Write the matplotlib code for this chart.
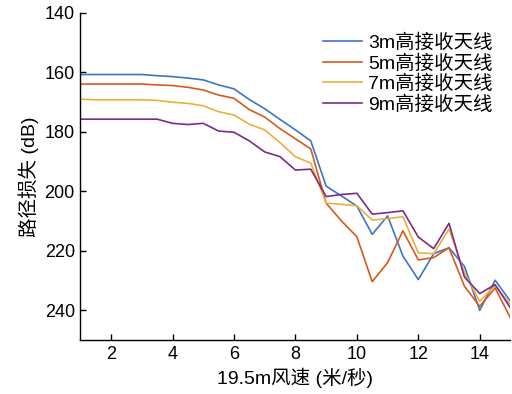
import matplotlib
matplotlib.use("Agg")
import matplotlib.pyplot as plt
import numpy as np

plt.rcParams['font.family'] = ['Liberation Sans', 'Noto Sans CJK SC', 'DejaVu Sans']

# 风速 (米/秒)
wind = np.arange(1, 15.01, 0.5)

loss_3m = [160.8, 160.8, 160.8, 160.8, 160.8, 161.2, 161.5, 162.0, 162.6, 164.3,
           165.6, 169.2, 172.3, 175.9, 179.4, 183.1, 198.3, 201.6, 205.0, 214.5,
           208.3, 221.8, 229.7, 221.0, 219.0, 225.2, 240.0, 229.9, 237.0]
loss_5m = [164.0, 164.0, 164.0, 164.0, 164.0, 164.3, 164.5, 165.1, 166.0, 167.7,
           168.8, 172.6, 175.1, 179.0, 182.4, 185.8, 204.0, 210.0, 215.3, 230.4,
           224.0, 213.3, 223.1, 222.3, 219.0, 231.9, 238.7, 232.5, 242.6]
loss_7m = [169.1, 169.3, 169.3, 169.3, 169.3, 169.5, 170.1, 170.5, 171.3, 173.3,
           174.4, 177.5, 179.4, 183.7, 188.4, 190.6, 204.0, 204.4, 204.9, 209.7,
           209.2, 208.6, 220.7, 221.0, 212.7, 227.4, 237.0, 231.7, 238.1]
loss_9m = [175.8, 175.8, 175.8, 175.8, 175.8, 175.8, 177.2, 177.6, 177.2, 179.8,
           180.2, 183.1, 186.8, 188.4, 192.9, 192.6, 201.8, 201.1, 200.7, 207.7,
           207.2, 206.6, 215.4, 219.3, 210.8, 228.8, 234.4, 231.4, 239.2]

series = [loss_3m, loss_5m, loss_7m, loss_9m]
labels = ['3m高接收天线', '5m高接收天线', '7m高接收天线', '9m高接收天线']
colors = ['#3F74C2', '#D65A1C', '#EAB03C', '#7A2B8B']

fig = plt.figure(figsize=(5.12, 3.94), dpi=100)
ax = fig.add_axes([0.157, 0.137, 0.84, 0.831])

for vals, lab, col in zip(series, labels, colors):
    ax.plot(wind, vals, color=col, linewidth=1.2, label=lab)

ax.set_xlim(1, 15)
ax.set_ylim(250, 140)
ax.set_xticks([2, 4, 6, 8, 10, 12, 14])
ax.set_yticks([140, 160, 180, 200, 220, 240])
ax.tick_params(direction='in', length=4, width=1, labelsize=13, pad=4)
ax.spines['top'].set_visible(False)
ax.spines['right'].set_visible(False)
for s in ['left', 'bottom']:
    ax.spines[s].set_linewidth(1.0)

ax.set_xlabel('19.5m风速 (米/秒)', fontsize=14, labelpad=4)
ax.set_ylabel('路径损失 (dB)', fontsize=14, labelpad=4)

ax.legend(loc='upper left', bbox_to_anchor=(0.631, 0.915),
          bbox_transform=fig.transFigure, frameon=False,
          fontsize=14, handlelength=2.0, handletextpad=0.3,
          labelspacing=0.12, borderpad=0, borderaxespad=0)

fig.savefig('out.png', dpi=100)
